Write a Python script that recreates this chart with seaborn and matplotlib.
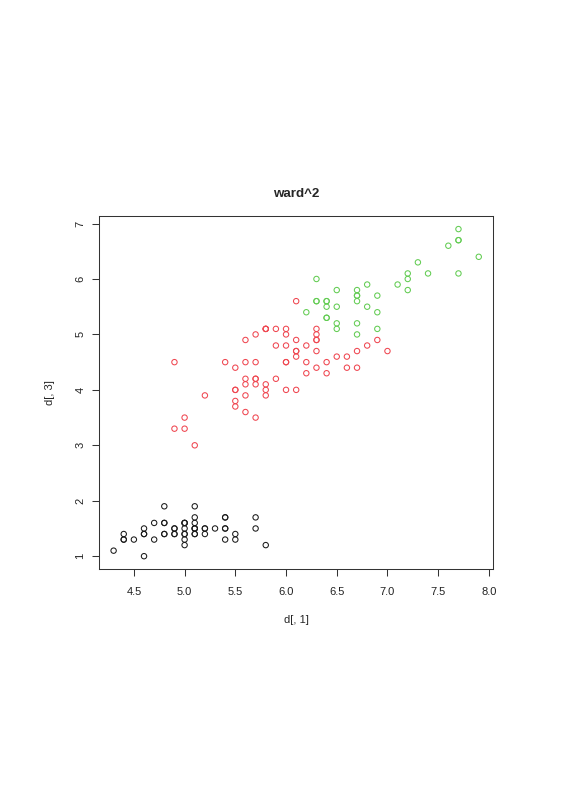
import matplotlib
matplotlib.use("Agg")
import matplotlib.pyplot as plt
import seaborn as sns

# cluster 1 (black)
c1_x = [5.1, 4.9, 4.7, 4.6, 5.0, 5.4, 4.6, 5.0, 4.4, 4.9,
        5.4, 4.8, 4.8, 4.3, 5.8, 5.7, 5.4, 5.1, 5.7, 5.1,
        5.4, 5.1, 4.6, 5.1, 4.8, 5.0, 5.0, 5.2, 5.2, 4.7,
        4.8, 5.4, 5.2, 5.5, 4.9, 5.0, 5.5, 4.9, 4.4, 5.1,
        5.0, 4.5, 4.4, 5.0, 5.1, 4.8, 5.1, 4.6, 5.3, 5.0]
c1_y = [1.4, 1.4, 1.3, 1.5, 1.4, 1.7, 1.4, 1.5, 1.4, 1.5,
        1.5, 1.6, 1.4, 1.1, 1.2, 1.5, 1.3, 1.4, 1.7, 1.5,
        1.7, 1.5, 1.0, 1.7, 1.9, 1.6, 1.6, 1.5, 1.4, 1.6,
        1.6, 1.5, 1.5, 1.4, 1.5, 1.2, 1.3, 1.4, 1.3, 1.5,
        1.3, 1.3, 1.3, 1.6, 1.9, 1.4, 1.6, 1.4, 1.5, 1.4]

# cluster 2 (red)
c2_x = [7.0, 6.4, 6.9, 5.5, 6.5, 5.7, 6.3, 4.9, 6.6, 5.2,
        5.0, 5.9, 6.0, 6.1, 5.6, 6.7, 5.6, 5.8, 6.2, 5.6,
        5.9, 6.1, 6.3, 6.1, 6.4, 6.6, 6.8, 6.0, 5.7, 5.5,
        5.5, 5.8, 6.0, 5.4, 6.0, 6.7, 6.3, 5.6, 5.5, 5.5,
        6.1, 5.8, 5.0, 5.6, 5.7, 5.7, 6.2, 5.1, 5.7,
        5.8, 4.9, 5.7, 5.8, 6.0, 5.6, 6.3, 6.2, 6.1, 6.3,
        6.1, 6.0, 5.8, 6.3, 5.9]
c2_y = [4.7, 4.5, 4.9, 4.0, 4.6, 4.5, 4.7, 3.3, 4.6, 3.9,
        3.5, 4.2, 4.0, 4.7, 3.6, 4.4, 4.5, 4.1, 4.5, 3.9,
        4.8, 4.0, 4.9, 4.7, 4.3, 4.4, 4.8, 4.5, 3.5, 3.8,
        3.7, 3.9, 5.1, 4.5, 4.5, 4.7, 4.4, 4.1, 4.0, 4.4,
        4.6, 4.0, 3.3, 4.2, 4.2, 4.2, 4.3, 3.0, 4.1,
        5.1, 4.5, 5.0, 5.1, 5.0, 4.9, 4.9, 4.8, 4.9, 5.1,
        5.6, 4.8, 5.1, 5.0, 5.1]

# cluster 3 (green)
c3_x = [6.7, 6.3, 7.1, 6.3, 6.5, 7.6, 7.3, 6.7, 7.2, 6.5,
        6.4, 6.8, 6.4, 6.5, 7.7, 7.7, 6.9, 7.7, 6.7, 7.2,
        6.4, 7.2, 7.4, 7.9, 6.4, 7.7, 6.3, 6.4, 6.9, 6.7,
        6.9, 6.8, 6.7, 6.7, 6.5, 6.2]
c3_y = [5.0, 6.0, 5.9, 5.6, 5.8, 6.6, 6.3, 5.8, 6.1, 5.1,
        5.3, 5.5, 5.3, 5.5, 6.7, 6.9, 5.7, 6.7, 5.7, 6.0,
        5.6, 5.8, 6.1, 6.4, 5.6, 6.1, 5.6, 5.5, 5.4, 5.6,
        5.1, 5.9, 5.7, 5.2, 5.2, 5.4]

x_ticks = [4.5, 5.0, 5.5, 6.0, 6.5, 7.0, 7.5, 8.0]
y_ticks = [1, 2, 3, 4, 5, 6, 7]

colours = ["#1a1a1a", "#EF4650", "#62CC52"]

sns.set_style("ticks")
plt.rcParams["font.family"] = ["Liberation Sans", "DejaVu Sans"]

fig = plt.figure(figsize=(5.65, 8), dpi=100)
ax = fig.add_axes([0.1752, 0.2884, 0.698, 0.4416])

for xs, ys, col in zip([c1_x, c2_x, c3_x], [c1_y, c2_y, c3_y], colours):
    sns.scatterplot(x=xs, y=ys, ax=ax, s=15, facecolor="none",
                    edgecolor=col, linewidth=0.75, marker="o")

# R style 4% padding
all_x = c1_x + c2_x + c3_x
all_y = c1_y + c2_y + c3_y
px = 0.04 * (max(all_x) - min(all_x))
py = 0.04 * (max(all_y) - min(all_y))
ax.set_xlim(min(all_x) - px, max(all_x) + px)
ax.set_ylim(min(all_y) - py, max(all_y) + py)

ax.set_xticks(x_ticks)
ax.set_xticklabels(["%.1f" % t for t in x_ticks])
ax.set_yticks(y_ticks)
ax.set_yticklabels([str(t) for t in y_ticks])
ax.tick_params(axis="both", length=5, width=0.75, color="#333333",
               labelsize=8, labelcolor="#222222")
ax.tick_params(axis="x", pad=7.5)
ax.tick_params(axis="y", pad=4.8)
for lab in ax.get_yticklabels():
    lab.set_rotation(90)
    lab.set_va("center")

for sp in ax.spines.values():
    sp.set_visible(True)
    sp.set_linewidth(0.75)
    sp.set_color("#333333")

ax.set_title("ward^2", fontsize=9.6, fontweight="bold", pad=14)
ax.set_xlabel("d[, 1]", fontsize=8)
ax.set_ylabel("d[, 3]", fontsize=8)
ax.xaxis.label.set_va("center")
ax.yaxis.label.set_va("center")
ax.xaxis.set_label_coords(0.5, -0.1435)
ax.yaxis.set_label_coords(-0.1243, 0.5)

fig.savefig("out.png", dpi=100, facecolor="white")
